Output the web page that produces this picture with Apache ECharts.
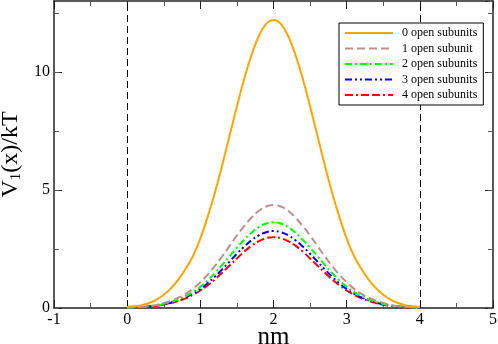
<!DOCTYPE html>
<html>
<head>
<meta charset="utf-8">
<script src="https://cdn.jsdelivr.net/npm/echarts@6/dist/echarts.min.js"></script>
<style>
  html, body { margin: 0; padding: 0; background: #fff; }
  #main { width: 498px; height: 344px; }
</style>
</head>
<body>
<div id="main"></div>
<script>
// x 0..4 nm step 0.1
const xs = []
for (let i = 0; i <= 40; i++) xs.push(+(i / 10).toFixed(1))

// values (left half, mirrored around x = 2)
const open0 = [0.04, 0.07, 0.12, 0.21, 0.35, 0.56, 0.84, 1.20, 1.66, 2.20, 2.94, 3.86, 4.89, 6.06, 7.30, 8.54, 9.71, 10.72, 11.52, 12.03, 12.2,
  12.03, 11.52, 10.72, 9.71, 8.54, 7.30, 6.06, 4.89, 3.86, 2.94, 2.20, 1.66, 1.20, 0.84, 0.56, 0.35, 0.21, 0.12, 0.07, 0.04]
const open1 = [0.02, 0.03, 0.05, 0.08, 0.13, 0.21, 0.31, 0.44, 0.60, 0.82, 1.09, 1.41, 1.78, 2.19, 2.63, 3.07, 3.47, 3.83, 4.12, 4.30, 4.36,
  4.30, 4.12, 3.83, 3.47, 3.07, 2.63, 2.19, 1.78, 1.41, 1.09, 0.82, 0.60, 0.44, 0.31, 0.21, 0.13, 0.08, 0.05, 0.03, 0.02]
const open2 = [0.01, 0.02, 0.04, 0.07, 0.11, 0.17, 0.26, 0.36, 0.50, 0.68, 0.90, 1.17, 1.48, 1.83, 2.19, 2.56, 2.89, 3.19, 3.43, 3.58, 3.63,
  3.58, 3.43, 3.19, 2.89, 2.56, 2.19, 1.83, 1.48, 1.17, 0.90, 0.68, 0.50, 0.36, 0.26, 0.17, 0.11, 0.07, 0.04, 0.02, 0.01]
const open3 = [0.01, 0.02, 0.04, 0.06, 0.10, 0.15, 0.23, 0.33, 0.45, 0.61, 0.81, 1.05, 1.33, 1.64, 1.97, 2.30, 2.60, 2.87, 3.08, 3.21, 3.26,
  3.21, 3.08, 2.87, 2.60, 2.30, 1.97, 1.64, 1.33, 1.05, 0.81, 0.61, 0.45, 0.33, 0.23, 0.15, 0.10, 0.06, 0.04, 0.02, 0.01]
const open4 = [0.01, 0.02, 0.03, 0.06, 0.09, 0.14, 0.21, 0.30, 0.41, 0.56, 0.74, 0.96, 1.21, 1.50, 1.80, 2.10, 2.39, 2.64, 2.83, 2.96, 3.00,
  2.96, 2.83, 2.64, 2.39, 2.10, 1.80, 1.50, 1.21, 0.96, 0.74, 0.56, 0.41, 0.30, 0.21, 0.14, 0.09, 0.06, 0.03, 0.02, 0.01]

const names = ['0 open subunits', '1 open subunit', '2 open subunits', '3 open subunits', '4 open subunits']
const colors = ['#FFA500', '#BC8F8F', '#00FF00', '#0000FF', '#FF0000']
const dashes = ['solid', [8, 4], [7, 3, 2, 3], [7, 3, 2, 3, 2, 3], [8, 3, 2, 3, 8, 3]]
const walls = [0, 4]

const font = 'Liberation Serif'
const rect = { left: 54, right: 5, top: 1, bottom: 36, containLabel: false, outerBoundsMode: 'none' }

function pairs(arr) {
  return arr.map((v, i) => [xs[i], v])
}

// major ticks + labels
function xAxis(pos, showLabel) {
  return {
    type: 'value', gridIndex: 0, position: pos, min: -1, max: 5, interval: 1,
    axisLine: { show: true, onZero: false, lineStyle: { color: '#222', width: 1.5 } },
    axisTick: { show: true, inside: true, length: 8, lineStyle: { color: '#222' } },
    minorTick: { show: true, splitNumber: 2, length: 5, lineStyle: { color: '#555' } },
    splitLine: { show: false },
    axisLabel: { show: showLabel, color: '#000', fontFamily: font, fontSize: 16, margin: 4 },
    name: showLabel ? 'nm' : '',
    nameLocation: 'middle', nameGap: 17, nameMoveOverlap: false,
    nameTextStyle: { color: '#000', fontFamily: font, fontSize: 25 }
  }
}
function yAxis(pos, showLabel) {
  return {
    type: 'value', gridIndex: 0, position: pos, min: 0, max: 13, interval: 5,
    axisLine: { show: true, onZero: false, lineStyle: { color: '#222', width: 1.5 } },
    axisTick: { show: true, inside: true, length: 8, lineStyle: { color: '#222' } },
    splitLine: { show: false },
    axisLabel: { show: showLabel, showMaxLabel: false, color: '#000', fontFamily: font, fontSize: 16, margin: 4 },
    name: showLabel ? 'V{s|1}(x)/kT' : '',
    nameLocation: 'middle', nameGap: 30, nameRotate: 90,
    nameTextStyle: {
      color: '#000', fontFamily: font, fontSize: 24,
      rich: { s: { fontFamily: font, fontSize: 15, verticalAlign: 'bottom', padding: [8, 0, 0, 0] } }
    }
  }
}
// minor y ticks on a second grid on top of the first
function yMinor(pos) {
  return {
    type: 'value', gridIndex: 1, position: pos, min: 0, max: 13, interval: 2.5,
    axisLine: { show: false, onZero: false },
    axisTick: { show: true, inside: true, length: 5, lineStyle: { color: '#555' } },
    splitLine: { show: false },
    axisLabel: { show: false }
  }
}

const series = [open0, open1, open2, open3, open4].map((d, i) => ({
  name: names[i],
  type: 'line',
  xAxisIndex: 0, yAxisIndex: 0,
  data: pairs(d),
  smooth: 0.4,
  symbol: 'none',
  z: 10 - i,
  lineStyle: { color: colors[i], width: 2, type: dashes[i] },
  itemStyle: { color: colors[i] }
}))
// dashed walls at x = 0 and x = 4
series[0].markLine = {
  silent: true, symbol: 'none', label: { show: false },
  lineStyle: { color: '#000', width: 1, type: [7, 4] },
  data: walls.map(v => ({ xAxis: v }))
}

const myChart = echarts.init(document.getElementById('main'))
myChart.setOption({
  animation: false,
  backgroundColor: '#fff',
  grid: [Object.assign({}, rect), Object.assign({}, rect)],
  legend: {
    orient: 'vertical', left: 339, top: 23, z: 30,
    data: names,
    selectedMode: false,
    itemWidth: 48, itemHeight: 12, itemGap: 3.5,
    padding: [4, 6, 4, 5],
    borderColor: '#000', borderWidth: 1, backgroundColor: '#fff',
    itemStyle: { opacity: 0 },
    textStyle: { color: '#000', fontFamily: font, fontSize: 12, padding: [0, 0, 0, 4] }
  },
  xAxis: [
    xAxis('bottom', true),
    xAxis('top', false),
    { type: 'value', gridIndex: 1, min: -1, max: 5, show: false }
  ],
  yAxis: [
    yAxis('left', true),
    yAxis('right', false),
    yMinor('left'),
    yMinor('right')
  ],
  series: series
})
</script>
</body>
</html>
